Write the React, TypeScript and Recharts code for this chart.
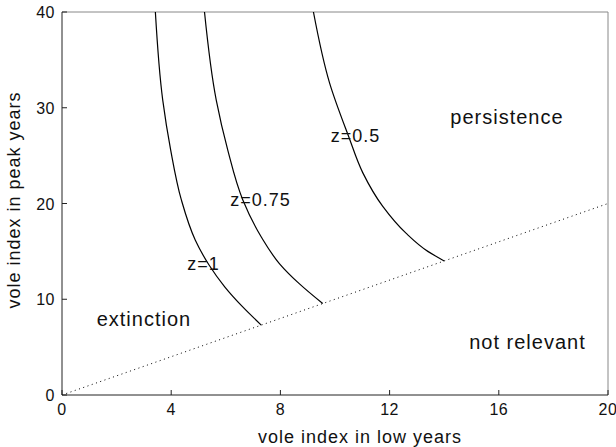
import React from 'react'
import { LineChart, Line, XAxis, YAxis, ReferenceLine, ReferenceDot, Label } from 'recharts'

// isoclines for different z values (low-year index vs peak-year index)
const z1 = [
  { x: 3.42, y: 40 }, { x: 3.69, y: 30.8 }, { x: 3.98, y: 25.6 }, { x: 4.37, y: 20.4 },
  { x: 4.88, y: 16.2 }, { x: 5.38, y: 13.6 }, { x: 5.96, y: 11.3 }, { x: 6.62, y: 9.2 }, { x: 7.3, y: 7.3 },
]
const z075 = [
  { x: 5.22, y: 40 }, { x: 5.65, y: 30.8 }, { x: 6.07, y: 25.6 }, { x: 6.62, y: 20.4 },
  { x: 7.3, y: 16.5 }, { x: 7.97, y: 13.7 }, { x: 8.7, y: 11.6 }, { x: 9.55, y: 9.55 },
]
const z05 = [
  { x: 9.21, y: 40 }, { x: 9.8, y: 32.6 }, { x: 10.5, y: 27 }, { x: 11.02, y: 23.2 },
  { x: 11.75, y: 19.7 }, { x: 12.6, y: 16.9 }, { x: 13.4, y: 15.0 }, { x: 14, y: 14 },
]
const diagonal = [{ x: 0, y: 0 }, { x: 20, y: 20 }]

const xTicks = [0, 4, 8, 12, 16, 20]
const yTicks = [0, 10, 20, 30, 40]

const annotations = [
  { text: 'extinction', x: 3.0, y: 8.0, size: 20 },
  { text: 'persistence', x: 16.3, y: 29.1, size: 20 },
  { text: 'not relevant', x: 17.05, y: 5.6, size: 20 },
  { text: 'z=1', x: 5.18, y: 13.7, size: 18 },
  { text: 'z=0.75', x: 7.27, y: 20.4, size: 18 },
  { text: 'z=0.5', x: 10.75, y: 27.1, size: 18 },
]

const font = '"Liberation Sans", Arial, Helvetica, sans-serif'

const XTick = (props: any) => {
  const { x, y, payload } = props
  return (
    <g>
      <line x1={x} x2={x} y1={y} y2={y - 5} stroke="#222" />
      <text x={x} y={y + 20} textAnchor="middle" fontSize={16} letterSpacing={0.5} fontFamily={font} fill="#111">
        {payload.value}
      </text>
    </g>
  )
}

const YTick = (props: any) => {
  const { x, y, payload } = props
  return (
    <g>
      <line x1={x} x2={x + 5} y1={y} y2={y} stroke="#222" />
      <text x={x - 7} y={y + 6} textAnchor="end" fontSize={16} letterSpacing={0.5} fontFamily={font} fill="#111">
        {payload.value}
      </text>
    </g>
  )
}

export default function App() {
  return (
    <div style={{ position: 'absolute', left: 0, top: 0, background: '#fff' }}>
      <LineChart width={616} height={447} margin={{ top: 12, right: 8, left: 0, bottom: 0 }}>
        <XAxis
          type="number"
          dataKey="x"
          domain={[0, 20]}
          ticks={xTicks}
          allowDataOverflow
          height={52}
          tickSize={0}
          tickMargin={0}
          tickLine={false}
          tick={<XTick />}
          axisLine={{ stroke: '#222' }}
        >
          <Label
            content={() => (
              <text x={360} y={443} textAnchor="middle" fontSize={18} letterSpacing={1} fontFamily={font} fill="#111">
                vole index in low years
              </text>
            )}
          />
        </XAxis>
        <YAxis
          type="number"
          dataKey="y"
          domain={[0, 40]}
          ticks={yTicks}
          allowDataOverflow
          width={62}
          tickSize={0}
          tickMargin={0}
          tickLine={false}
          tick={<YTick />}
          axisLine={{ stroke: '#222' }}
        >
          <Label
            content={() => (
              <text
                x={20}
                y={200}
                transform="rotate(-90, 20, 200)"
                textAnchor="middle"
                fontSize={18}
                letterSpacing={1}
                fontFamily={font}
                fill="#111"
              >
                vole index in peak years
              </text>
            )}
          />
        </YAxis>
        <ReferenceLine y={40} stroke="#888" />
        <ReferenceLine x={20} stroke="#888" />
        <Line data={diagonal} dataKey="y" stroke="#000" strokeWidth={1} strokeDasharray="1 3.5" dot={false} isAnimationActive={false} />
        <Line data={z1} dataKey="y" type="monotoneY" stroke="#000" strokeWidth={1.2} dot={false} isAnimationActive={false} />
        <Line data={z075} dataKey="y" type="monotoneY" stroke="#000" strokeWidth={1.2} dot={false} isAnimationActive={false} />
        <Line data={z05} dataKey="y" type="monotoneY" stroke="#000" strokeWidth={1.2} dot={false} isAnimationActive={false} />
        {annotations.map(a => (
          <ReferenceDot
            key={a.text}
            x={a.x}
            y={a.y}
            r={1}
            fill="none"
            stroke="none"
            label={(p: any) => {
              const vb = p.viewBox || {}
              const cx = vb.x + (vb.width || 0) / 2
              const cy = vb.y + (vb.height || 0) / 2
              return (
                <text x={cx} y={cy + a.size * 0.36} textAnchor="middle" fontSize={a.size} letterSpacing={1} fontFamily={font} fill="#111">
                  {a.text}
                </text>
              )
            }}
          />
        ))}
      </LineChart>
    </div>
  )
}
